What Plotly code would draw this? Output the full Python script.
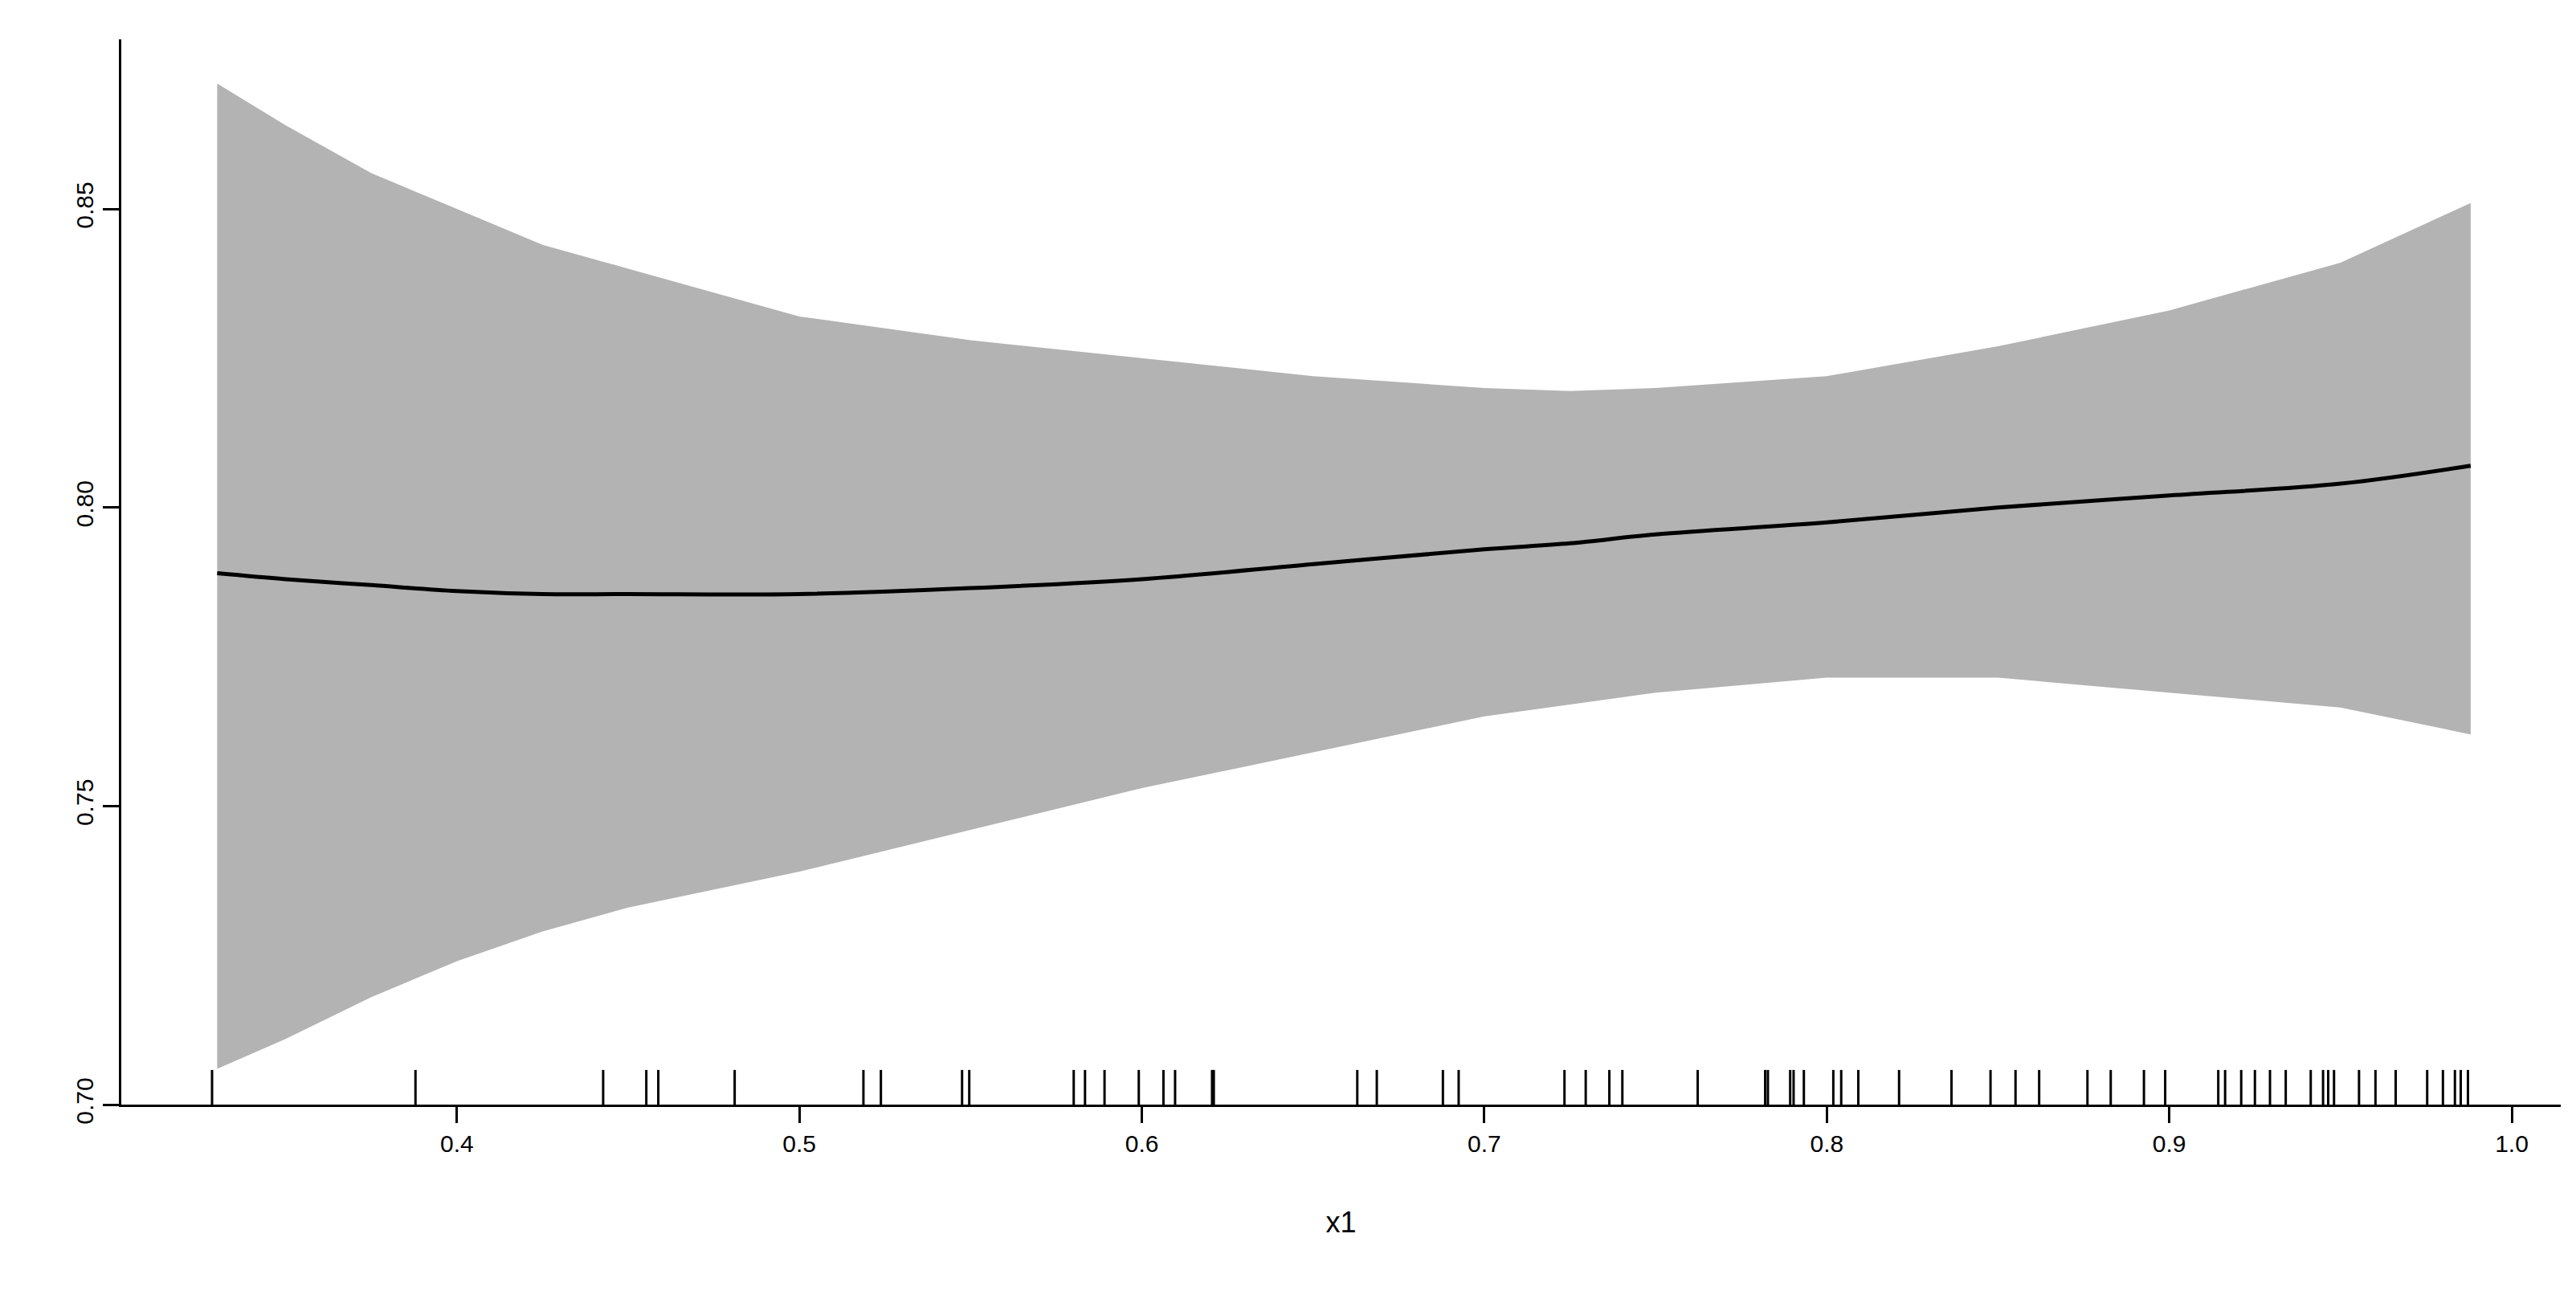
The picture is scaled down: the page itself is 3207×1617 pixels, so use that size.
import plotly.graph_objects as go

grid_x = [0.33, 0.35, 0.375, 0.40, 0.425, 0.45, 0.50, 0.55, 0.60, 0.65, 0.70, 0.725, 0.75, 0.80, 0.85, 0.90, 0.95, 0.988]
fit = [0.789, 0.788, 0.787, 0.786, 0.7855, 0.7855, 0.7855, 0.7865, 0.788, 0.7905, 0.793, 0.794, 0.7955, 0.7975, 0.800, 0.802, 0.804, 0.807]
upper = [0.871, 0.864, 0.856, 0.850, 0.844, 0.840, 0.832, 0.828, 0.825, 0.822, 0.820, 0.8195, 0.820, 0.822, 0.827, 0.833, 0.841, 0.851]
lower = [0.706, 0.711, 0.718, 0.724, 0.729, 0.733, 0.739, 0.746, 0.753, 0.759, 0.765, 0.767, 0.769, 0.7715, 0.7715, 0.769, 0.7665, 0.762]
rug_x = [0.3285, 0.3879, 0.4427, 0.4553, 0.4588, 0.4811, 0.5187, 0.5238, 0.5475, 0.5496,
         0.5801, 0.5834, 0.5891, 0.5991, 0.6063, 0.6097, 0.6205, 0.6210, 0.6629, 0.6686,
         0.6879, 0.6925, 0.7234, 0.7296, 0.7365, 0.7403, 0.7623, 0.7820, 0.7828,
         0.7893, 0.7903, 0.7933, 0.8019, 0.8042, 0.8092, 0.8211, 0.8364, 0.8478, 0.8551,
         0.8620, 0.8761, 0.8829, 0.8926, 0.8988, 0.9143, 0.9163, 0.9210, 0.9250, 0.9294,
         0.9340, 0.9413, 0.9449, 0.9464, 0.9481, 0.9554, 0.9602, 0.9661, 0.9753, 0.9799,
         0.9834, 0.9851, 0.9872]
x_ticks = [0.4, 0.5, 0.6, 0.7, 0.8, 0.9, 1.0]
y_ticks = [0.70, 0.75, 0.80, 0.85]

fig = go.Figure()
fig.add_trace(go.Scatter(x=grid_x + grid_x[::-1], y=upper + lower[::-1], fill="toself",
                         fillcolor="#b3b3b3", line=dict(width=0), mode="lines", hoverinfo="skip"))
fig.add_trace(go.Scatter(x=grid_x, y=fit, mode="lines", line=dict(color="black", width=5, shape="spline")))
rx, ry = [], []
for v in rug_x:
    rx += [v, v, None]
    ry += [0.70, 0.7058, None]
fig.add_trace(go.Scatter(x=rx, y=ry, mode="lines", line=dict(color="black", width=3)))

fig.update_layout(
    width=3207, height=1617, showlegend=False,
    paper_bgcolor="white", plot_bgcolor="white",
    margin=dict(l=143, r=27, t=41, b=250),
    font=dict(family="Liberation Sans, Arial", size=30, color="black"),
    xaxis=dict(range=[0.302, 1.0143], tickvals=x_ticks, ticktext=[f"{v:.1f}" for v in x_ticks],
               showgrid=False, zeroline=False, showline=True, linecolor="black", linewidth=3,
               ticks="outside", ticklen=20, tickwidth=3, tickcolor="black",
               title=dict(text="x1", standoff=70)),
    yaxis=dict(range=[0.70, 0.8784], tickvals=y_ticks, ticktext=[f"{v:.2f}" for v in y_ticks],
               showgrid=False, zeroline=False, showline=True, linecolor="black", linewidth=3,
               ticks="outside", ticklen=20, tickwidth=3, tickcolor="black", tickangle=-90),
)
fig.write_html("out.html")
